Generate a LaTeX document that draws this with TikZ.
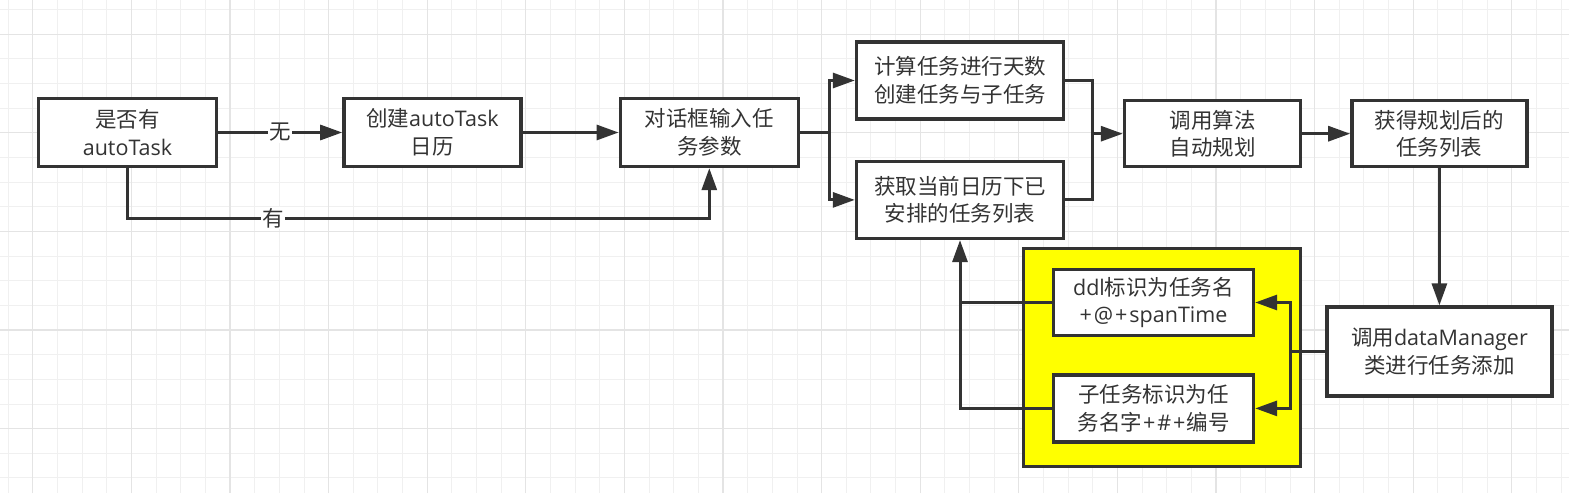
\documentclass[tikz,border=0pt]{standalone}
\usepackage{fontspec}
\setmainfont{Noto Sans CJK SC}
\newfontfamily\lat{Open Sans}
\usetikzlibrary{arrows.meta,positioning,calc}
\definecolor{ink}{HTML}{333333}
\definecolor{gridminor}{HTML}{F0F0F0}
\definecolor{gridmajor}{HTML}{E4E4E4}
\definecolor{hilite}{HTML}{FFFF00}

\begin{document}
\begin{tikzpicture}[x=1pt,y=1pt,>={Triangle[length=22pt,width=15pt]},
  box/.style={draw=ink,line width=3.4pt,fill=white,text=ink,align=center,inner sep=0pt,font=\fontsize{21.5}{27.5}\selectfont},
  line/.style={draw=ink,line width=3pt},
  arrow/.style={line,->},
  tag/.style={fill=white,text=ink,inner sep=1pt,font=\fontsize{21.5}{24}\selectfont}]
  \useasboundingbox (0,0) rectangle (1569,493);
  % grid paper
  \fill[white] (0,0) rectangle (1569,493);
  \foreach \i in {0,...,63} \draw[gridminor,line width=1pt] ({8.2+24.65*\i},0) -- ++(0,493);
  \foreach \j in {0,...,19} \draw[gridminor,line width=1pt] (0,{483.4-24.65*\j}) -- ++(1569,0);
  \foreach \i in {0,...,15} \draw[gridmajor,line width=1.2pt] ({32.8+98.6*\i},0) -- ++(0,493);
  \foreach \j in {0,...,4} \draw[gridmajor,line width=1.2pt] (0,{458.8-98.6*\j}) -- ++(1569,0);

  \node[box,minimum width=178pt,minimum height=68pt] (has) at (127.5,360.5) {是否有\\{\lat autoTask}};
  \node[box,minimum width=177pt,minimum height=68pt,right=124pt of has] (create) {创建{\lat autoTask}\\日历};
  \node[box,minimum width=178pt,minimum height=68pt,right=96pt of create] (input) {对话框输入任\\务参数};
  \node[box,minimum width=207pt,minimum height=77pt] (calc) at (960,412.5) {计算任务进行天数\\创建任务与子任务};
  \node[box,minimum width=207pt,minimum height=77pt,below=39pt of calc] (fetch) {获取当前日历下已\\安排的任务列表};
  \node[box,minimum width=176pt,minimum height=66pt] (algo) at (1212.5,359.3) {调用算法\\自动规划};
  \node[box,minimum width=175pt,minimum height=66pt,right=48pt of algo] (plan) {获得规划后的\\任务列表};
  \node[box,minimum width=225pt,minimum height=89pt,below=137pt of plan] (addtask) {调用{\lat dataManager}\\类进行任务添加};
  \node[draw=ink,line width=3.4pt,fill=hilite,minimum width=277pt,minimum height=218pt] (panel) at (1162,135.5) {};
  \node[box,minimum width=200pt,minimum height=66pt] (ddl) at (1153.5,190.5) {{\lat ddl}标识为任务名\\{\lat +\kern2pt@\kern2pt+\kern2pt spanTime}};
  \node[box,minimum width=200pt,minimum height=67pt,below=36pt of ddl] (sub) {子任务标识为任\\务名字{\lat \kern1pt+\kern2pt\#\kern2pt+\kern1pt}编号};

  \draw[arrow] (has) -- node[tag]{无} (create);
  \draw[arrow] (has.south) -- ++(0,-50) -| node[tag,pos=0.125]{有} (input.south);
  \draw[arrow] (create) -- (input);
  \coordinate[right=29pt of input] (split);
  \draw[line] (input) -- (split);
  \draw[arrow] (split) |- (calc);
  \draw[arrow] (split) |- (fetch);
  \coordinate[left=30pt of algo] (merge);
  \draw[line] (calc) -| (merge) |- (fetch);
  \draw[arrow] (merge) -- (algo);
  \draw[arrow] (algo) -- (plan);
  \draw[arrow] (plan) -- (addtask);
  \coordinate[left=35pt of addtask] (fan);
  \draw[line] (addtask) -- (fan);
  \draw[arrow] (fan) |- (ddl);
  \draw[arrow] (fan) |- (sub);
  \draw[line] (ddl.west) -- (ddl.west -| fetch.south);
  \draw[arrow] (sub) -| (fetch);
\end{tikzpicture}
\end{document}
